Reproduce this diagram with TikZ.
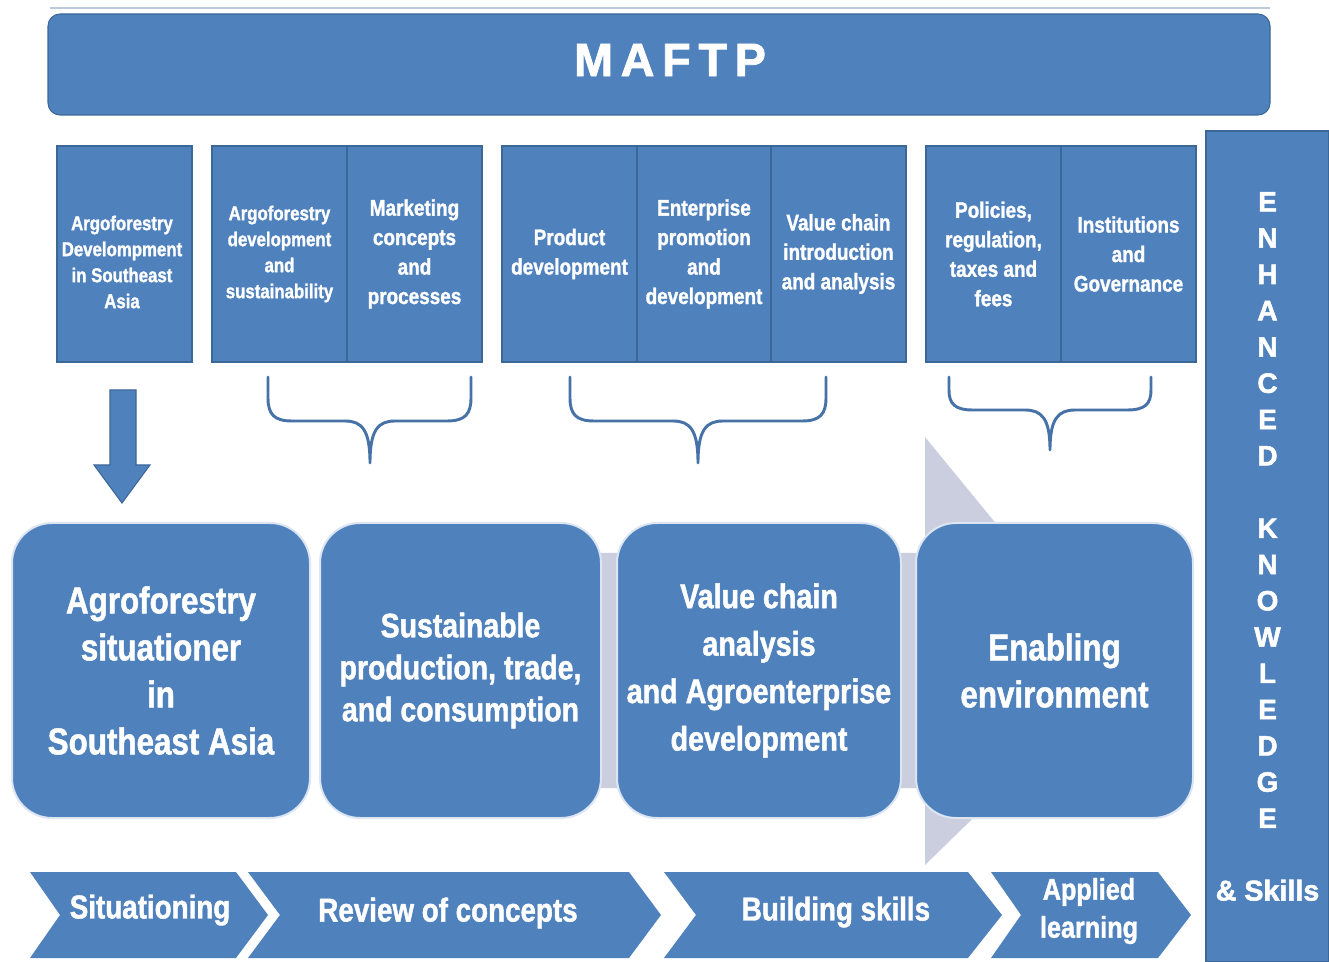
\documentclass[tikz,border=0pt]{standalone}
\usepackage{fontspec}
\newfontfamily\condf{Liberation Sans}[FakeStretch=0.84, BoldFeatures={FakeBold=1.3}]
\newfontfamily\heavyf{Liberation Sans}[BoldFeatures={FakeBold=1.8}]
\definecolor{mblue}{HTML}{4F81BD}
\definecolor{medge}{HTML}{3C6898}
\definecolor{glow}{HTML}{DCE6F2}
\definecolor{ghost}{HTML}{CBCEDF}
\definecolor{bracec}{HTML}{4672A8}
\definecolor{rulec}{HTML}{BCCBDC}
\begin{document}
\begin{tikzpicture}[x=0.75pt,y=-0.75pt,
  every node/.style={inner sep=0pt, outer sep=0pt, text=white},
  banner/.style={fill=mblue, draw=medge, line width=0.8pt, rounded corners=9pt,
    minimum width=916.5pt, minimum height=75.75pt},
  topbox/.style={fill=mblue, draw=medge, line width=1.2pt, align=center,
    minimum width=101.25pt, minimum height=162pt},
  smalltxt/.style={align=center, font={\condf\bfseries\fontsize{15}{19.5}\selectfont}},
  midtxt/.style={font={\condf\bfseries\fontsize{16.9}{22.1}\selectfont}},
  bigbox/.style={fill=mblue, draw=glow, line width=1.5pt, rounded corners=30pt,
    align=center, minimum height=221.25pt},
  chev/.style={fill=mblue},
  chevtxt/.style={align=center, font={\condf\bfseries\fontsize{24.8}{28.5}\selectfont}},
  brace/.style={draw=bracec, line width=2.2pt, line cap=round, line join=round},
  sidecol/.style={fill=mblue, draw=medge, line width=1pt, align=center,
    minimum width=92.25pt, minimum height=623.25pt,
    font={\heavyf\bfseries\fontsize{21}{27.2}\selectfont}},
]
\useasboundingbox (0,0) rectangle (1329,962);
\fill[white] (0,0) rectangle (1329,962);

% thin rule above the title bar
\draw[rulec, line width=0.8pt] (50,8) -- (1270,8);

% title bar
\node[banner] (banner) at (659,64.5) {};
\node[font={\heavyf\bfseries\fontsize{35}{40}\selectfont}] (title) at (670,60) {M\,A\,F\,T\,P};

% module boxes
\node[topbox] (t1) at (124.5,254) {};
\node[smalltxt] (t1txt) at (122,262) {Argoforestry\\Develompment\\in Southeast\\Asia};
\node[topbox, smalltxt] (t2a) at (279.5,254) {Argoforestry\\development\\and\\sustainability};
\node[topbox, midtxt] (t2b) at (414.5,254) {Marketing\\concepts\\and\\processes};
\node[topbox, midtxt] (t3a) at (569.5,254) {Product\\development};
\node[topbox, midtxt, minimum width=100.5pt] (t3b) at (704,254) {Enterprise\\promotion\\and\\development};
\node[topbox, midtxt] (t3c) at (838.5,254) {Value chain\\introduction\\and analysis};
\node[topbox, midtxt] (t4a) at (993.5,254) {Policies,\\regulation,\\taxes and\\fees};
\node[topbox, midtxt] (t4b) at (1128.5,254) {Institutions\\and\\Governance};

% side column
\node[sidecol] (side) at (1267.5,546.5)
  {E\\N\\H\\A\\N\\C\\E\\D\\\mbox{}\\K\\N\\O\\W\\L\\E\\D\\G\\E\\\mbox{}\\{\fontsize{21.5}{27.2}\selectfont\&~Skills}};

% braces grouping the modules
\draw[brace] (268,377) -- (268,398) .. controls (268,414) and (274,421) .. (292,421)
  -- (345,421) .. controls (362,421) and (370,430) .. (370,463)
  .. controls (370,430) and (378,421) .. (395,421) -- (447,421)
  .. controls (465,421) and (471,414) .. (471,398) -- (471,377);
\draw[brace] (570,377) -- (570,398) .. controls (570,414) and (576,421) .. (594,421)
  -- (673,421) .. controls (690,421) and (698,430) .. (698,463)
  .. controls (698,430) and (706,421) .. (723,421) -- (802,421)
  .. controls (820,421) and (826,414) .. (826,398) -- (826,377);
\draw[brace] (949,377) -- (949,390) .. controls (949,404) and (955,410) .. (973,410)
  -- (1025,410) .. controls (1042,410) and (1050,419) .. (1050,450)
  .. controls (1050,419) and (1058,410) .. (1075,410) -- (1127,410)
  .. controls (1145,410) and (1151,404) .. (1151,390) -- (1151,377);

% down arrow from the first module
\draw[fill=mblue, draw=medge, line width=0.8pt, line join=miter]
  (110,390) -- (136,390) -- (136,465) -- (150,465) -- (122,503) -- (94,465) -- (110,465) -- cycle;

% pale process arrow behind the topic boxes
\fill[ghost] (400,553) -- (925,553) -- (925,437) -- (1120,675) -- (925,865) -- (925,788) -- (400,788) -- cycle;

% topic boxes
\node[bigbox, minimum width=223.5pt, font={\condf\bfseries\fontsize{28}{35.25}\selectfont}] (b1) at (161,670.5)
  {Agroforestry\\situationer\\in\\Southeast Asia};
\node[bigbox, minimum width=210.75pt, font={\condf\bfseries\fontsize{25.4}{31.5}\selectfont}] (b2) at (460.5,670.5)
  {Sustainable\\production, trade,\\and consumption};
\node[bigbox, minimum width=213pt, font={\condf\bfseries\fontsize{25.6}{35.6}\selectfont}] (b3) at (759,670.5)
  {Value chain\\analysis\\and Agroenterprise\\development};
\node[bigbox, minimum width=207.75pt, font={\condf\bfseries\fontsize{28}{35.25}\selectfont}] (b4) at (1054.5,670.5)
  {Enabling\\environment};

% learning stages
\fill[chev] (30,872) -- (236,872) -- (268,915) -- (236,958) -- (30,958) -- (60,915) -- cycle;
\fill[chev] (248,872) -- (629,872) -- (661,915) -- (629,958) -- (248,958) -- (280,915) -- cycle;
\fill[chev] (664,872) -- (968,872) -- (1002,915) -- (968,958) -- (664,958) -- (696,915) -- cycle;
\fill[chev] (991,872) -- (1158,872) -- (1191,915) -- (1158,958) -- (991,958) -- (1021,915) -- cycle;
\node[chevtxt] (s1) at (150,910) {Situationing};
\node[chevtxt] (s2) at (448,913) {Review of concepts};
\node[chevtxt] (s3) at (836,912) {Building skills};
\node[chevtxt, font={\condf\bfseries\fontsize{22.5}{28.5}\selectfont}] (s4) at (1089,911) {Applied\\learning};
\end{tikzpicture}
\end{document}
